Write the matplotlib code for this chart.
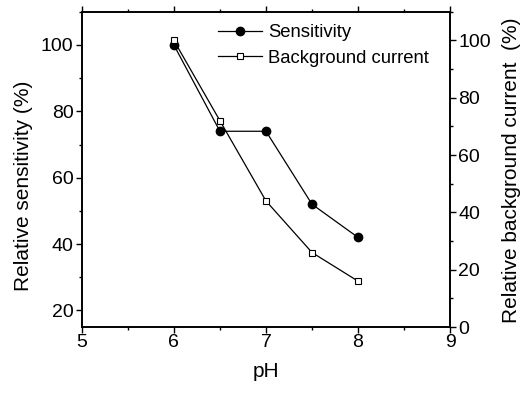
import matplotlib
matplotlib.use('Agg')
import matplotlib.pyplot as plt
from matplotlib.ticker import MultipleLocator

plt.rcParams['font.family'] = ['Liberation Sans', 'DejaVu Sans']

# data
ph = [6.0, 6.5, 7.0, 7.5, 8.0]
sensitivity = [100, 74, 74, 52, 42]
background = [100, 72, 44, 26, 16]

fs = 14
lfs = 15

fig = plt.figure(figsize=(5.21, 3.94), dpi=100)
ax = fig.add_axes([0.157, 0.170, 0.707, 0.800])
ax2 = ax.twinx()

l1, = ax.plot(ph, sensitivity, color='black', lw=0.9, marker='o', ms=6,
              mfc='black', mec='black', label='Sensitivity')
l2, = ax2.plot(ph, background, color='black', lw=0.9, marker='s', ms=4.5,
               mfc='white', mec='black', mew=0.8, label='Background current')

ax.set_xlim(5, 9)
ax.set_ylim(15, 110)
ax2.set_ylim(0, 110)

ax.xaxis.set_major_locator(MultipleLocator(1))
ax.xaxis.set_minor_locator(MultipleLocator(0.5))
ax.yaxis.set_major_locator(MultipleLocator(20))
ax.yaxis.set_minor_locator(MultipleLocator(10))
ax2.yaxis.set_major_locator(MultipleLocator(20))
ax2.yaxis.set_minor_locator(MultipleLocator(10))

ax.tick_params(axis='both', which='major', direction='out', length=4, width=1,
               labelsize=fs, top=True)
ax.tick_params(axis='both', which='minor', direction='out', length=2.5, width=1,
               top=True)
ax.tick_params(axis='x', pad=1)
ax2.tick_params(axis='y', which='major', direction='out', length=4, width=1,
                labelsize=fs, pad=2)
ax2.tick_params(axis='y', which='minor', direction='out', length=2.5, width=1)
ax.tick_params(axis='y', pad=2)

for a in (ax, ax2):
    for s in a.spines.values():
        s.set_linewidth(1.2)

ax.set_xlabel('pH', fontsize=lfs, labelpad=8)
ax.set_ylabel('Relative sensitivity (%)', fontsize=lfs)
ax.yaxis.set_label_coords(-0.133, 0.448)
ax2.set_ylabel('Relative background current  (%)', fontsize=lfs)
ax2.yaxis.set_label_coords(1.141, 0.498)

ax.legend([l1, l2], ['Sensitivity', 'Background current'], loc='upper left',
          bbox_to_anchor=(0.37, 0.96), frameon=False, fontsize=13.3,
          handlelength=2.4, handletextpad=0.3, labelspacing=0.45,
          borderpad=0, borderaxespad=0)

fig.savefig('out.png', dpi=100)
